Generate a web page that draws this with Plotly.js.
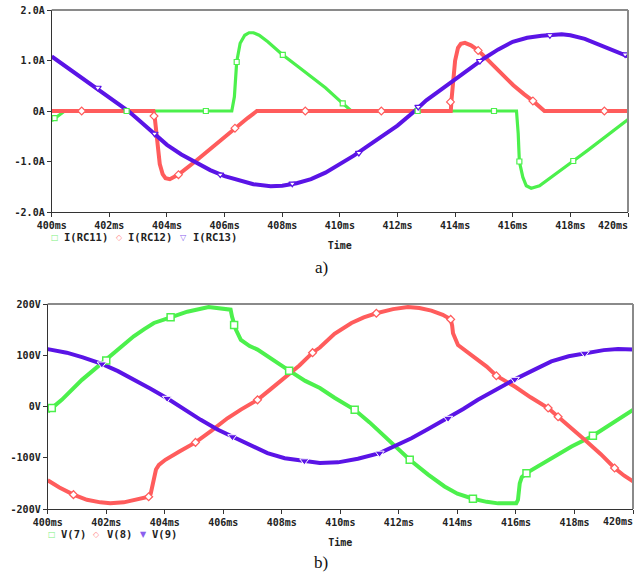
<!DOCTYPE html>
<html>
<head>
<meta charset="utf-8">
<script src="https://cdn.plot.ly/plotly-3.0.1.min.js"></script>
<style>html,body{margin:0;padding:0;background:#fff;}#chart{width:638px;height:574px;}</style>
</head>
<body>
<div id="chart"></div>
<script>
// ---------- tick labels ----------
var timeTicks = [400,402,404,406,408,410,412,414,416,418,420];
var timeTickText = ['400ms','402ms','404ms','406ms','408ms','410ms','412ms','414ms','416ms','418ms','420ms'];
var curTicks = [-2,-1,0,1,2];
var curTickText = ['-2.0A','-1.0A','0A','1.0A','2.0A'];
var voltTicks = [-200,-100,0,100,200];
var voltTickText = ['-200V','-100V','0V','100V','200V'];

// ---------- a) currents ----------
var tRC11 = [400.0,400.15,400.45,406.25,406.34,406.42,406.54,406.7,406.85,407.0,407.2,407.5,408.0,408.5,409.0,409.25,409.5,410.0,410.4,416.13,416.19,416.23,416.35,416.47,416.64,416.93,417.16,417.6,418.1,418.6,419.0,419.5,420.0];
var iRC11 = [-0.19,-0.12,0,0,0.28,0.97,1.34,1.50,1.55,1.55,1.50,1.37,1.12,0.90,0.68,0.58,0.46,0.20,0,0,-0.45,-1.00,-1.31,-1.48,-1.53,-1.48,-1.38,-1.20,-0.99,-0.78,-0.60,-0.38,-0.17];
var tRC12 = [400,403.53,403.58,403.65,403.75,403.85,403.95,404.1,404.4,405.0,405.5,406.0,406.36,406.8,407.12,413.85,413.88,413.93,414.0,414.1,414.2,414.34,414.55,414.8,415.26,415.6,416.02,416.4,416.7,417.1,420];
var iRC12 = [0,0,-0.15,-0.6,-1.05,-1.25,-1.33,-1.35,-1.26,-0.99,-0.75,-0.51,-0.34,-0.14,0,0,0.25,0.6,1.0,1.25,1.33,1.35,1.30,1.20,0.94,0.73,0.51,0.33,0.20,0,0];
var tRC13 = [400,400.5,401,401.5,402,402.66,403,403.57,404,404.5,405,405.5,406,406.5,407,407.6,408,408.5,409,409.5,410,410.5,411,411.5,412,412.6,413,413.5,414,414.5,415,415.5,416,416.5,417,417.7,418,418.5,419,419.5,420];
var iRC13 = [1.08,0.88,0.68,0.48,0.27,0,-0.17,-0.45,-0.67,-0.86,-1.02,-1.17,-1.29,-1.38,-1.45,-1.49,-1.48,-1.43,-1.35,-1.22,-1.05,-0.88,-0.68,-0.49,-0.29,0,0.21,0.42,0.63,0.84,1.04,1.22,1.37,1.45,1.49,1.52,1.50,1.43,1.32,1.21,1.08];
// markers on the current traces
var mtRC11 = [400.1,402.6,405.35,406.42,408.02,410.1,412.7,415.35,416.23,418.1];
var miRC11 = [-0.14,0,0,0.97,1.11,0.15,0,0,-1.0,-0.99];
var mtRC12 = [401.04,403.55,404.4,406.36,408.8,411.44,413.84,414.8,416.7,419.18];
var miRC12 = [0,-0.1,-1.26,-0.34,0,0,0.18,1.2,0.2,0];
var mtRC13 = [401.6,403.57,405.85,408.35,410.66,412.72,414.86,417.29,419.9];
var miRC13 = [0.46,-0.45,-1.26,-1.44,-0.83,0.08,0.99,1.50,1.12];

// ---------- b) voltages ----------
var tV7 = [400,400.14,400.48,401.17,402.0,402.5,402.94,403.3,403.63,404.2,404.77,405.5,405.9,406.25,406.3,406.37,406.43,406.6,406.9,407.17,407.7,408.2,408.8,409.3,409.8,410.49,411.0,411.51,412.0,412.37,413.0,413.56,414.0,414.53,415.0,415.39,416.01,416.07,416.13,416.2,416.36,416.8,417.21,417.9,418.63,419.3,420];
var v7 = [-10,-3,13,52,91,116,137,151,163,174,185,194,192,189,175,159,150,130,118,111,92,72,50,36,17,-6.5,-31,-58,-84,-104,-133,-156,-170,-180,-186,-189,-189,-182,-150,-138,-130,-115,-101,-78,-57,-33,-6.5];
var tV8 = [400,400.4,400.88,401.34,401.8,402.14,402.6,402.94,403.45,403.52,403.57,403.62,403.7,403.8,404.02,404.5,405.05,405.6,406.14,406.6,407.17,407.6,408.08,408.6,409.05,409.3,409.8,410.38,410.8,411.23,411.8,412.31,412.7,413.11,413.5,413.77,413.82,413.85,414.02,414.3,414.59,415.0,415.33,415.96,416.5,417.1,417.44,417.9,418.35,418.9,419.37,419.7,420];
var v8 = [-144,-158,-172,-182,-187,-189,-187,-182,-176,-170,-155,-137,-123,-114,-104,-88,-70,-47,-23,-6,13,33,55,80,105,115,142,163,174,182,190,194,192,187,179,170,158,143,120,108,98,78,60,39,18,-3,-20,-42,-65,-93,-120,-135,-146];
var tV9 = [400,400.65,401.2,401.85,402.4,402.94,403.5,404.08,404.6,405.23,405.8,406.31,406.9,407.51,408.1,408.77,409.3,409.92,410.6,411.34,411.9,412.43,413.0,413.68,414.2,414.7,415.3,415.96,416.6,417.21,417.8,418.35,419.0,419.49,420];
var v9 = [112,105,96,83,69,53,35,16,-4,-26,-45,-59,-76,-91,-101,-106,-110,-109,-102,-91,-77,-62,-44,-23,-5,13,33,53,71,88,98,104,110,112,111];
// markers on the voltage traces
var mtV7 = [400.14,402.0,404.2,406.37,408.25,410.49,412.37,414.53,416.36,418.63];
var mv7 = [-3,90,174,159,70,-6.5,-104,-180,-130,-57];
var mtV8 = [400.88,403.45,405.05,407.17,409.05,411.23,413.77,415.33,417.1,417.44,419.37];
var mv8 = [-172,-176,-70,13,105,182,170,60,-3,-20,-120];
var mtV9 = [401.85,404.08,406.31,408.77,411.34,413.68,415.96,418.35];
var mv9 = [83,16,-59,-106,-91,-23,53,104];

// legend / label texts
var legendA = ['I(RC11)','I(RC12)','I(RC13)'];
var legendB = ['V(7)','V(8)','V(9)'];

// ---------- styles ----------
var GREEN = '#4cf04c', RED = '#ff5c5c', PURPLE = '#5a14e6';
var W = 638, H = 574;
function px(x){return x/W;}
function py(y){return 1 - y/H;}

function lineTrace(x,y,color,w,xa,ya){
  return {x:x,y:y,mode:'lines',type:'scatter',xaxis:xa,yaxis:ya,showlegend:false,hoverinfo:'skip',
    line:{color:color,width:w,shape:'linear'}};
}
function markTrace(x,y,sym,size,fill,lineColor,lw,xa,ya){
  return {x:x,y:y,mode:'markers',type:'scatter',xaxis:xa,yaxis:ya,showlegend:false,hoverinfo:'skip',
    marker:{symbol:sym,size:size,color:fill,line:{color:lineColor,width:lw}}};
}

var data = [
  lineTrace(tRC11,iRC11,GREEN,3.2,'x','y'),
  lineTrace(tRC12,iRC12,RED,4,'x','y'),
  lineTrace(tRC13,iRC13,PURPLE,4,'x','y'),
  markTrace(mtRC11,miRC11,'square',5,'#fff',GREEN,1.2,'x','y'),
  markTrace(mtRC12,miRC12,'diamond',6,'#fff',RED,1.2,'x','y'),
  markTrace(mtRC13,miRC13,'triangle-down',6,'#fff',PURPLE,1.2,'x','y'),
  lineTrace(tV7,v7,GREEN,4,'x2','y2'),
  lineTrace(tV8,v8,RED,4,'x2','y2'),
  lineTrace(tV9,v9,PURPLE,4,'x2','y2'),
  markTrace(mtV7,mv7,'square',7,'#fff',GREEN,1.5,'x2','y2'),
  markTrace(mtV8,mv8,'diamond',6,'#fff',RED,1.3,'x2','y2'),
  markTrace(mtV9,mv9,'triangle-down',8,PURPLE,'#fff',1,'x2','y2')
];

var tickFont = {family:'DejaVu Sans Mono', size:10, color:'#222', weight:'bold'};
// the last tick label (420ms) would overflow the page, so it is drawn right-aligned as an annotation
var axisTickText = timeTickText.slice(0, timeTickText.length - 1).concat([' ']);
function xAxis(dom, anchor){
  return {domain:dom, anchor:anchor, range:[400,420], tickvals:timeTicks, ticktext:axisTickText,
    showgrid:false, zeroline:false, showline:true, linecolor:'#333', linewidth:1,
    ticks:'outside', ticklen:4, tickcolor:'#333', tickfont:tickFont, fixedrange:true,
    title:{text:'Time', font:{family:'DejaVu Sans Mono', size:10, color:'#222', weight:'bold'}, standoff:11}};
}
function yAxis(dom, anchor, rng, tv, tt){
  return {domain:dom, anchor:anchor, range:rng, tickvals:tv, ticktext:tt,
    showgrid:false, zeroline:false, showline:true, linecolor:'#333', linewidth:1,
    ticks:'outside', ticklen:4, tickcolor:'#333', tickfont:tickFont, fixedrange:true};
}

var shapes = [];
[['x','y'],['x2','y2']].forEach(function(a){
  shapes.push({type:'line', xref:a[0]+' domain', yref:a[1]+' domain', x0:0, x1:1, y0:1, y1:1, line:{color:'#8a8a8a', width:2}});
  shapes.push({type:'line', xref:a[0]+' domain', yref:a[1]+' domain', x0:1, x1:1, y0:0, y1:1, line:{color:'#8a8a8a', width:2}});
});

var annotations = [];
function legendItem(sym, color, symX, textX, y, label, symSize){
  annotations.push({xref:'paper', yref:'paper', x:px(symX), y:py(y), xanchor:'center', yanchor:'middle',
    text:sym, showarrow:false, font:{family:'DejaVu Sans', size:symSize, color:color}});
  annotations.push({xref:'paper', yref:'paper', x:px(textX), y:py(y), xanchor:'left', yanchor:'middle',
    text:label, showarrow:false, font:{family:'DejaVu Sans Mono', size:10.5, color:'#222', weight:'bold'}});
}
legendItem('□', '#7ef07e', 55, 62, 237, legendA[0], 8);
legendItem('◇', '#ff9090', 119, 126, 237, legendA[1], 8);
legendItem('▽', '#8a60ee', 183, 191, 237, legendA[2], 8);
legendItem('□', '#7ef07e', 52, 59, 534, legendB[0], 8);
legendItem('◇', '#ff9090', 97, 105, 534, legendB[1], 8);
legendItem('▼', '#8a60ee', 143, 150, 534, legendB[2], 8);

// last x tick labels
annotations.push({xref:'paper', yref:'paper', x:px(629), y:py(225), xanchor:'right', yanchor:'middle',
  text:timeTickText[timeTickText.length-1], showarrow:false, borderpad:0, font:tickFont});
annotations.push({xref:'paper', yref:'paper', x:px(634), y:py(521), xanchor:'right', yanchor:'middle',
  text:timeTickText[timeTickText.length-1], showarrow:false, borderpad:0, font:tickFont});

annotations.push({xref:'paper', yref:'paper', x:px(321), y:py(268), xanchor:'center', yanchor:'middle',
  text:'a)', showarrow:false, font:{family:'Liberation Serif', size:17, color:'#111'}});
annotations.push({xref:'paper', yref:'paper', x:px(321), y:py(562), xanchor:'center', yanchor:'middle',
  text:'b)', showarrow:false, font:{family:'Liberation Serif', size:17, color:'#111'}});

var layout = {
  width:W, height:H, margin:{l:0,r:0,t:0,b:0}, paper_bgcolor:'#fff', plot_bgcolor:'#fff',
  showlegend:false,
  xaxis: xAxis([px(51.7), px(628)], 'y'),
  yaxis: yAxis([py(212), py(10)], 'x', [-2,2], curTicks, curTickText),
  xaxis2: xAxis([px(47.7), px(633)], 'y2'),
  yaxis2: yAxis([py(509), py(304)], 'x2', [-200,200], voltTicks, voltTickText),
  shapes: shapes,
  annotations: annotations
};

Plotly.newPlot('chart', data, layout, {staticPlot:true, displayModeBar:false});
</script>
</body>
</html>
